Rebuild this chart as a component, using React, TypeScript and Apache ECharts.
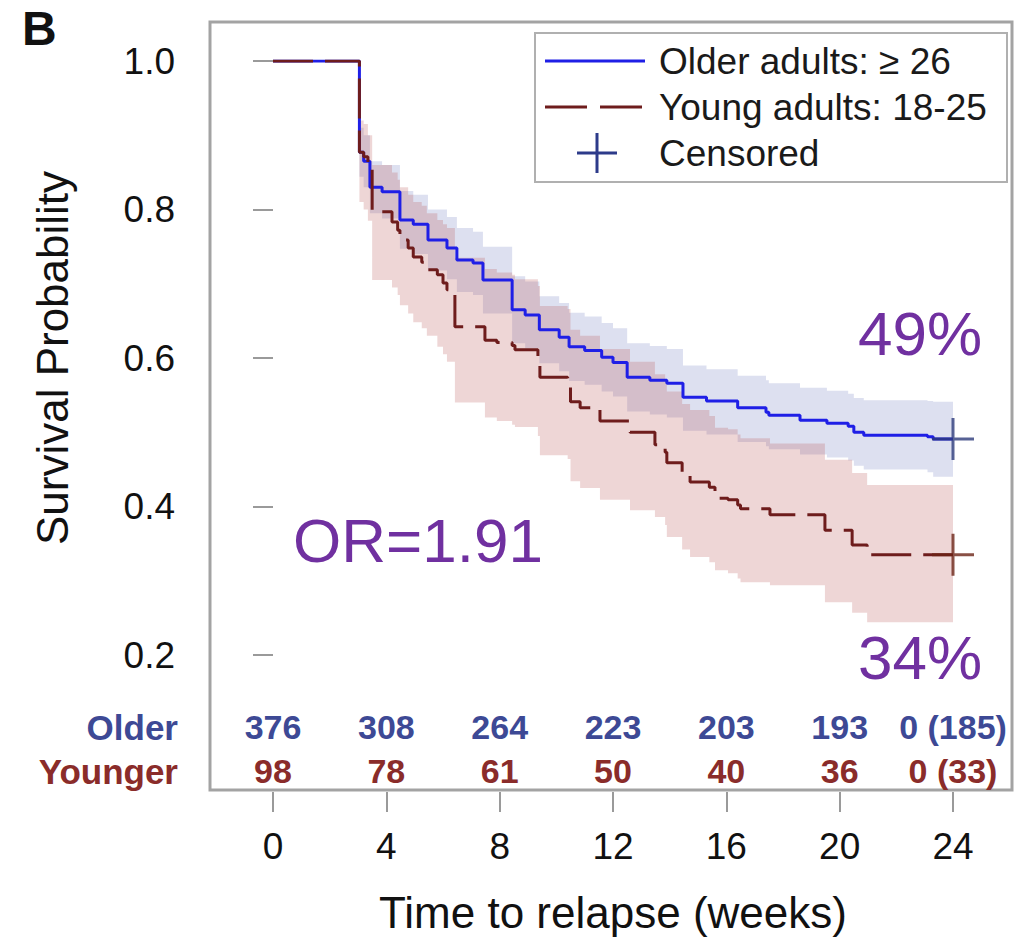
import React, { useEffect, useRef } from "react";
import * as echarts from "echarts";

// ---- Data ----
const xTicks = [0, 4, 8, 12, 16, 20, 24];
const olderAtRisk = ["376", "308", "264", "223", "203", "193", "0 (185)"];
const youngerAtRisk = ["98", "78", "61", "50", "40", "36", "0 (33)"];

const olderTimes = [0, 3.05, 3.2, 3.42, 3.85, 4.48, 4.95, 5.47, 6.14, 6.49, 7.06, 7.41, 8.44, 8.9, 9.4, 10.1, 10.45, 11.0, 11.6, 12.0, 12.5, 13.3, 13.9, 14.47, 15.3, 16.4, 17.4, 17.5, 18.6, 19.55, 20.3, 20.5, 20.85, 23.1, 23.3, 24];
const olderSurv = [1, 0.877, 0.865, 0.83, 0.824, 0.786, 0.78, 0.759, 0.748, 0.732, 0.728, 0.705, 0.665, 0.658, 0.638, 0.628, 0.615, 0.61, 0.601, 0.594, 0.574, 0.57, 0.566, 0.547, 0.542, 0.533, 0.527, 0.523, 0.516, 0.512, 0.508, 0.5, 0.496, 0.494, 0.491, 0.491];
const olderUpper = [1, 0.91, 0.9, 0.865, 0.86, 0.825, 0.82, 0.8, 0.79, 0.775, 0.77, 0.75, 0.71, 0.703, 0.683, 0.674, 0.661, 0.656, 0.647, 0.64, 0.62, 0.616, 0.612, 0.59, 0.585, 0.576, 0.57, 0.566, 0.56, 0.556, 0.552, 0.546, 0.543, 0.542, 0.541, 0.541];
const olderLower = [1, 0.844, 0.83, 0.795, 0.788, 0.747, 0.74, 0.718, 0.706, 0.689, 0.685, 0.66, 0.62, 0.613, 0.593, 0.582, 0.569, 0.564, 0.555, 0.548, 0.528, 0.524, 0.52, 0.502, 0.497, 0.487, 0.481, 0.477, 0.47, 0.466, 0.462, 0.455, 0.45, 0.446, 0.44, 0.44];

const youngerTimes = [0, 3.05, 3.2, 3.35, 3.5, 4.2, 4.4, 4.48, 4.77, 4.95, 5.25, 5.43, 5.8, 6.0, 6.14, 6.42, 7.48, 7.9, 8.44, 8.54, 9.35, 9.42, 10.4, 10.5, 10.84, 11.54, 12.6, 13.48, 13.84, 13.9, 14.44, 14.72, 15.4, 15.6, 16.06, 16.4, 16.5, 17.54, 19.48, 20.44, 20.97, 24];
const youngerSurv = [1, 0.877, 0.871, 0.857, 0.797, 0.783, 0.772, 0.759, 0.748, 0.736, 0.729, 0.719, 0.712, 0.701, 0.692, 0.642, 0.624, 0.621, 0.617, 0.611, 0.601, 0.574, 0.57, 0.541, 0.533, 0.515, 0.5, 0.483, 0.473, 0.459, 0.442, 0.433, 0.426, 0.411, 0.409, 0.402, 0.397, 0.389, 0.368, 0.348, 0.335, 0.335];
const youngerUpper = [1, 0.92, 0.915, 0.9, 0.86, 0.85, 0.84, 0.83, 0.82, 0.81, 0.805, 0.795, 0.786, 0.78, 0.775, 0.735, 0.72, 0.715, 0.712, 0.706, 0.697, 0.67, 0.666, 0.638, 0.63, 0.612, 0.595, 0.578, 0.568, 0.555, 0.538, 0.53, 0.522, 0.506, 0.504, 0.497, 0.492, 0.485, 0.463, 0.445, 0.429, 0.429];
const youngerLower = [1, 0.81, 0.8, 0.785, 0.705, 0.695, 0.685, 0.671, 0.66, 0.648, 0.64, 0.63, 0.615, 0.605, 0.595, 0.54, 0.52, 0.515, 0.51, 0.507, 0.495, 0.469, 0.464, 0.434, 0.425, 0.409, 0.395, 0.386, 0.375, 0.359, 0.342, 0.332, 0.325, 0.314, 0.31, 0.303, 0.298, 0.294, 0.271, 0.257, 0.244, 0.244];

const olderCensored = [[24, 0.491]];
const youngerCensored = [[24, 0.335]];

const FONT = "'Liberation Sans', Arial, Helvetica, sans-serif";
const BLUE = "#1f1fe6";
const RED = "#6e1c1c";
const OLDER_TXT = "#3d4995";
const YOUNGER_TXT = "#8a2c2a";
const PURPLE = "#7030a0";
const PLUS = "path://M19.5,0h3v19.5h19.5v3h-19.5v19.5h-3v-19.5h-19.5v-3h19.5z";

// row positions for the at-risk table (in survival units, below the plotted range)
const OLDER_ROW = 0.103;
const YOUNGER_ROW = 0.044;

// Confidence band as one step-shaped polygon, positioned with the axes (api.coord)
function bandSeries(name: string, times: number[], lower: number[], upper: number[], color: string) {
  return {
    type: "custom",
    name,
    silent: true,
    data: times.map((t, i) => [t, lower[i], upper[i]]),
    renderItem: (params: any, api: any) => {
      if (params.dataIndex !== 0) return null;
      const n = times.length;
      const pts: number[][] = [];
      for (let i = 0; i < n; i++) {
        const t0 = times[i];
        const t1 = i + 1 < n ? times[i + 1] : times[i];
        pts.push(api.coord([t0, upper[i]]));
        pts.push(api.coord([t1, upper[i]]));
      }
      for (let i = n - 1; i >= 0; i--) {
        const t0 = times[i];
        const t1 = i + 1 < n ? times[i + 1] : times[i];
        pts.push(api.coord([t1, lower[i]]));
        pts.push(api.coord([t0, lower[i]]));
      }
      return { type: "polygon", shape: { points: pts }, style: { fill: color } };
    },
    z: 1,
  };
}

function atRiskSeries(name: string, texts: string[], row: number, color: string) {
  return {
    type: "custom",
    name,
    silent: true,
    data: xTicks.map((t) => [t, row]),
    renderItem: (params: any, api: any) => {
      const p = api.coord([api.value(0), api.value(1)]);
      return {
        type: "text",
        x: p[0],
        y: p[1],
        style: {
          text: texts[params.dataIndex],
          fill: color,
          fontSize: 34,
          fontWeight: "bold",
          fontFamily: FONT,
          align: "center",
          verticalAlign: "middle",
        },
      };
    },
    z: 5,
  };
}

export default function App() {
  const ref = useRef<HTMLDivElement>(null);

  useEffect(() => {
    if (!ref.current) return;
    const chart = echarts.init(ref.current, undefined, { renderer: "svg" });

    const option: any = {
      animation: false,
      backgroundColor: "#ffffff",
      textStyle: { fontFamily: FONT },
      grid: { left: 273, top: 61, width: 680, height: 594, containLabel: false },
      xAxis: {
        type: "value",
        min: 0,
        max: 24,
        interval: 4,
        offset: 137,
        axisLine: { show: false },
        axisTick: { show: true, length: 20, lineStyle: { color: "#9a9a9a", width: 2 } },
        splitLine: { show: false },
        axisLabel: { fontSize: 37, color: "#111", margin: 36, fontFamily: FONT },
        name: "Time to relapse (weeks)",
        nameLocation: "middle",
        nameGap: 98,
        nameTextStyle: { fontSize: 44, color: "#111", fontFamily: FONT },
      },
      yAxis: {
        type: "value",
        min: 0.2,
        max: 1.0,
        interval: 0.2,
        offset: 63,
        axisLine: { show: false },
        axisTick: { show: true, length: 20, lineStyle: { color: "#9a9a9a", width: 2 } },
        splitLine: { show: false },
        axisLabel: {
          fontSize: 37,
          color: "#111",
          margin: 35,
          fontFamily: FONT,
          formatter: (v: number) => v.toFixed(1),
        },
        name: "Survival Probability",
        nameLocation: "middle",
        nameRotate: 90,
        nameGap: 136,
        nameTextStyle: { fontSize: 44, color: "#111", fontFamily: FONT },
      },
      series: [
        bandSeries("Older CI", olderTimes, olderLower, olderUpper, "rgba(130,140,200,0.27)"),
        bandSeries("Younger CI", youngerTimes, youngerLower, youngerUpper, "rgba(185,85,85,0.24)"),
        {
          type: "line",
          name: "Older adults: ≥ 26",
          step: "end",
          symbol: "none",
          lineStyle: { color: BLUE, width: 3 },
          data: olderTimes.map((t, i) => [t, olderSurv[i]]),
          z: 3,
        },
        {
          type: "line",
          name: "Young adults: 18-25",
          step: "end",
          symbol: "none",
          lineStyle: { color: RED, width: 3, type: [40, 12] },
          data: youngerTimes.map((t, i) => [t, youngerSurv[i]]),
          z: 3,
        },
        {
          type: "scatter",
          name: "Censored older",
          symbol: PLUS,
          symbolSize: 42,
          itemStyle: { color: "#2d3b7a" },
          data: olderCensored,
          clip: false,
          z: 4,
        },
        {
          type: "scatter",
          name: "Censored younger",
          symbol: PLUS,
          symbolSize: 42,
          itemStyle: { color: "#6b2417" },
          data: youngerCensored,
          clip: false,
          z: 4,
        },
        atRiskSeries("Older at risk", olderAtRisk, OLDER_ROW, OLDER_TXT),
        atRiskSeries("Younger at risk", youngerAtRisk, YOUNGER_ROW, YOUNGER_TXT),
      ],
      graphic: [
        {
          type: "rect",
          silent: true,
          shape: { x: 210, y: 22, width: 802, height: 768 },
          style: { fill: "none", stroke: "#a3a3a3", lineWidth: 3 },
        },
        {
          type: "rect",
          silent: true,
          shape: { x: 535, y: 33, width: 472, height: 149 },
          style: { fill: "#ffffff", stroke: "#b0b0b0", lineWidth: 2 },
        },
        { type: "line", silent: true, shape: { x1: 545, y1: 61, x2: 645, y2: 61 }, style: { stroke: BLUE, lineWidth: 3 } },
        {
          type: "line",
          silent: true,
          shape: { x1: 545, y1: 107, x2: 643, y2: 107 },
          style: { stroke: RED, lineWidth: 3, lineDash: [42, 13] },
        },
        { type: "line", silent: true, shape: { x1: 577, y1: 153, x2: 617, y2: 153 }, style: { stroke: "#2d3b8a", lineWidth: 3 } },
        { type: "line", silent: true, shape: { x1: 597, y1: 133, x2: 597, y2: 173 }, style: { stroke: "#2d3b8a", lineWidth: 3 } },
        {
          type: "text",
          silent: true,
          x: 659,
          y: 61,
          style: { text: "Older adults: ≥ 26", fontSize: 37, fontFamily: FONT, fill: "#1a1a1a", align: "left", verticalAlign: "middle" },
        },
        {
          type: "text",
          silent: true,
          x: 659,
          y: 107,
          style: { text: "Young adults: 18-25", fontSize: 37, fontFamily: FONT, fill: "#1a1a1a", align: "left", verticalAlign: "middle" },
        },
        {
          type: "text",
          silent: true,
          x: 659,
          y: 153,
          style: { text: "Censored", fontSize: 37, fontFamily: FONT, fill: "#1a1a1a", align: "left", verticalAlign: "middle" },
        },
        {
          type: "text",
          silent: true,
          x: 178,
          y: 727,
          style: { text: "Older", fontSize: 35, fontWeight: "bold", fontFamily: FONT, fill: OLDER_TXT, align: "right", verticalAlign: "middle" },
        },
        {
          type: "text",
          silent: true,
          x: 178,
          y: 771,
          style: { text: "Younger", fontSize: 35, fontWeight: "bold", fontFamily: FONT, fill: YOUNGER_TXT, align: "right", verticalAlign: "middle" },
        },
        {
          type: "text",
          silent: true,
          x: 22,
          y: 28,
          style: { text: "B", fontSize: 48, fontWeight: "bold", fontFamily: FONT, fill: "#111", align: "left", verticalAlign: "middle" },
        },
        {
          type: "text",
          silent: true,
          x: 293,
          y: 540,
          style: { text: "OR=1.91", fontSize: 62, fontFamily: FONT, fill: PURPLE, align: "left", verticalAlign: "middle" },
        },
        {
          type: "text",
          silent: true,
          x: 858,
          y: 333,
          style: { text: "49%", fontSize: 62, fontFamily: FONT, fill: PURPLE, align: "left", verticalAlign: "middle" },
        },
        {
          type: "text",
          silent: true,
          x: 858,
          y: 657,
          style: { text: "34%", fontSize: 62, fontFamily: FONT, fill: PURPLE, align: "left", verticalAlign: "middle" },
        },
      ],
    };

    chart.setOption(option);
    return () => chart.dispose();
  }, []);

  return (
    <div
      ref={ref}
      style={{ position: "fixed", left: 0, top: 0, width: 1014, height: 942, background: "#fff" }}
    />
  );
}
